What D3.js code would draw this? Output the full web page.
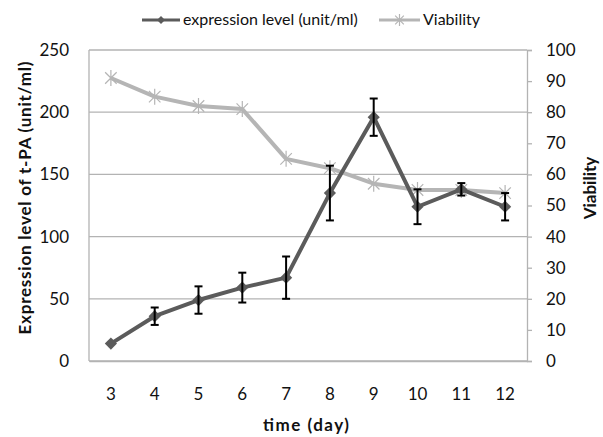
<!DOCTYPE html>
<html lang="en">
<head>
<meta charset="utf-8">
<title>t-PA expression and viability</title>
<script src="https://cdnjs.cloudflare.com/ajax/libs/d3/7.8.5/d3.min.js"></script>
<style>
  body { margin: 0; background: #fff; }
  svg text { font-family: Lato, "Open Sans", sans-serif; fill: #111; }
</style>
</head>
<body>
<div id="chart"></div>
<script>
// values
const days = [3, 4, 5, 6, 7, 8, 9, 10, 11, 12];
const expression = [14, 36, 49, 59, 67, 135, 196, 124, 138, 124];
const expressionErr = [0, 7, 11, 12, 17, 22, 15, 14, 5, 11];
const viability = [91, 85, 82, 81, 65, 62, 57, 55, 55, 54];
const leftTicks = [0, 50, 100, 150, 200, 250];
const rightTicks = [0, 10, 20, 30, 40, 50, 60, 70, 80, 90, 100];

const w = 603, h = 437;
const plot = {left: 89, right: 527, top: 50, bottom: 361};
const darkCol = '#5b5b5b', lightCol = '#b5b5b5', gridCol = '#b3b3b3';

const svg = d3.select('#chart').append('svg')
  .attr('width', w).attr('height', h);

const x = d3.scaleBand().domain(days).range([plot.left, plot.right]).padding(0);
const cx = d => x(d) + x.bandwidth() / 2;
const yL = d3.scaleLinear().domain([0, 250]).range([plot.bottom, plot.top]);
const yR = d3.scaleLinear().domain([0, 100]).range([plot.bottom, plot.top]);

// gridlines
svg.append('g').selectAll('line').data(leftTicks).enter().append('line')
  .attr('x1', plot.left).attr('x2', plot.right)
  .attr('y1', d => yL(d)).attr('y2', d => yL(d))
  .attr('stroke', gridCol).attr('stroke-width', 1.3);

// left border
svg.append('line').attr('x1', plot.left).attr('x2', plot.left)
  .attr('y1', plot.top).attr('y2', plot.bottom).attr('stroke', gridCol).attr('stroke-width', 1.3);

// left axis
const yAxisL = d3.axisLeft(yL).tickValues(leftTicks).tickSize(0).tickPadding(20);
const gL = svg.append('g').attr('transform', 'translate(' + plot.left + ',0)').call(yAxisL);
gL.select('.domain').remove();
gL.selectAll('text').style('font-size', '17px').style('font-family', 'Lato');

// right axis
const yAxisR = d3.axisRight(yR).tickValues(rightTicks).tickSize(5).tickPadding(14);
const gR = svg.append('g').attr('transform', 'translate(' + plot.right + ',0)').call(yAxisR);
gR.select('.domain').attr('stroke', gridCol).attr('stroke-width', 1.3);
gR.selectAll('.tick line').attr('stroke', gridCol).attr('stroke-width', 1.3);
gR.selectAll('text').style('font-size', '17px').style('font-family', 'Lato');

// bottom axis
const xAxis = d3.axisBottom(x).tickSize(0).tickPadding(27);
const gX = svg.append('g').attr('transform', 'translate(0,' + plot.bottom + ')').call(xAxis);
gX.select('.domain').attr('stroke', gridCol).attr('stroke-width', 1.3);
gX.selectAll('text').style('font-size', '17px').style('font-family', 'Lato');

// axis titles
svg.append('text')
  .attr('transform', 'translate(31,198) rotate(-90)')
  .attr('text-anchor', 'middle')
  .attr('textLength', 273).attr('lengthAdjust', 'spacing')
  .style('font-size', '17px').style('font-weight', 'bold')
  .text('Expression level of t-PA (unit/ml)');
svg.append('text')
  .attr('transform', 'translate(596,188) rotate(-90)')
  .attr('text-anchor', 'middle')
  .style('font-size', '17px').style('font-weight', 'bold')
  .text('Viability');
svg.append('text')
  .attr('x', 306).attr('y', 431)
  .attr('text-anchor', 'middle')
  .attr('textLength', 86).attr('lengthAdjust', 'spacing')
  .style('font-size', '17px').style('font-weight', 'bold')
  .text('time (day)');

// marker helpers
const diamond = d3.symbol().type(d3.symbolDiamond2).size(95);
function star(g, px, py, r, col) {
  const a = r * 0.72;
  g.append('path')
    .attr('d', 'M' + (px - a) + ',' + (py - a) + 'L' + (px + a) + ',' + (py + a) +
               'M' + (px - a) + ',' + (py + a) + 'L' + (px + a) + ',' + (py - a) +
               'M' + px + ',' + (py - r) + 'L' + px + ',' + (py + r))
    .attr('stroke', col).attr('stroke-width', 1.2).attr('fill', 'none');
}

// viability series
const lineR = d3.line().x((d, i) => cx(days[i])).y(d => yR(d));
svg.append('path').datum(viability).attr('d', lineR)
  .attr('fill', 'none').attr('stroke', lightCol).attr('stroke-width', 4)
  .attr('stroke-linejoin', 'round');
const stars = svg.append('g');
viability.forEach((v, i) => star(stars, cx(days[i]), yR(v), 8, lightCol));

// expression series
const lineL = d3.line().x((d, i) => cx(days[i])).y(d => yL(d));
svg.append('path').datum(expression).attr('d', lineL)
  .attr('fill', 'none').attr('stroke', darkCol).attr('stroke-width', 4)
  .attr('stroke-linejoin', 'round');
svg.append('g').selectAll('path').data(expression).enter().append('path')
  .attr('d', diamond)
  .attr('transform', (d, i) => 'translate(' + cx(days[i]) + ',' + yL(d) + ')')
  .attr('fill', darkCol);

// error bars
const eb = svg.append('g').attr('stroke', '#000').attr('stroke-width', 2);
expression.forEach((v, i) => {
  const e = expressionErr[i];
  if (!e) return;
  const px = cx(days[i]);
  eb.append('line').attr('x1', px).attr('x2', px).attr('y1', yL(v - e)).attr('y2', yL(v + e));
  eb.append('line').attr('x1', px - 4).attr('x2', px + 4).attr('y1', yL(v - e)).attr('y2', yL(v - e));
  eb.append('line').attr('x1', px - 4).attr('x2', px + 4).attr('y1', yL(v + e)).attr('y2', yL(v + e));
});

// legend
const leg = svg.append('g');
leg.append('line').attr('x1', 142).attr('x2', 180).attr('y1', 20).attr('y2', 20)
  .attr('stroke', darkCol).attr('stroke-width', 3);
leg.append('path').attr('d', d3.symbol().type(d3.symbolDiamond2).size(40))
  .attr('transform', 'translate(161,20)').attr('fill', darkCol);
leg.append('text').attr('x', 183).attr('y', 25).style('font-size', '16px')
  .text('expression level (unit/ml)');
leg.append('line').attr('x1', 379).attr('x2', 420).attr('y1', 20).attr('y2', 20)
  .attr('stroke', lightCol).attr('stroke-width', 3);
star(leg, 399.5, 20, 6, lightCol);
leg.append('text').attr('x', 423).attr('y', 25).style('font-size', '16px')
  .text('Viability');
</script>
</body>
</html>
